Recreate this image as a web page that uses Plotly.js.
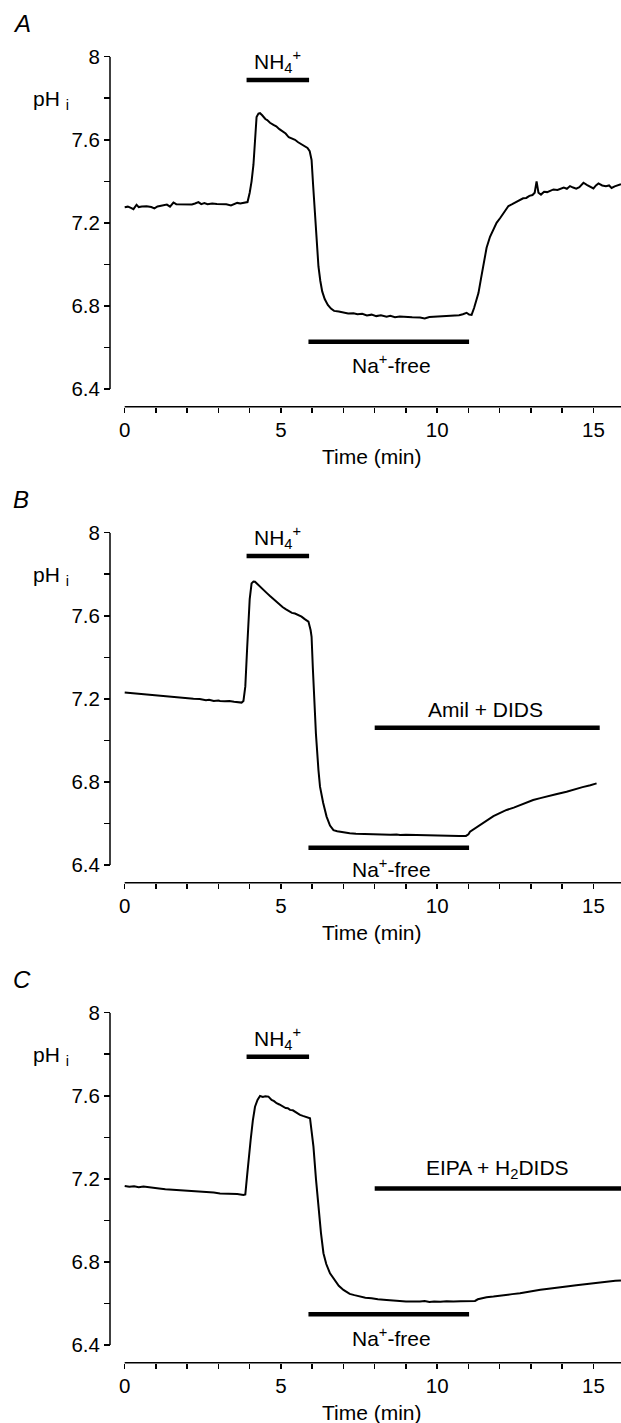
<!DOCTYPE html>
<html>
<head>
<meta charset="utf-8">
<script src="https://cdn.plot.ly/plotly-3.0.1.min.js"></script>
<style>html,body{margin:0;padding:0;background:#fff;}#chart{width:621px;height:1423px;}</style>
</head>
<body>
<div id="chart"></div>
<script>
// ---------- DATA ----------
var tA = [0,0.1,0.2,0.28,0.38,0.45,0.55,0.7,0.85,0.95,1.05,1.2,1.35,1.45,1.56,1.65,1.8,2.0,2.15,2.25,2.36,2.45,2.55,2.65,2.8,2.95,3.1,3.25,3.4,3.48,3.6,3.7,3.85,3.93,4.0,4.06,4.12,4.17,4.22,4.28,4.33,4.4,4.5,4.56,4.65,4.76,4.85,4.95,5.05,5.15,5.25,5.35,5.45,5.55,5.65,5.75,5.85,5.92,5.98,6.03,6.09,6.15,6.2,6.26,6.32,6.4,6.5,6.6,6.7,6.85,7.0,7.15,7.32,7.45,7.6,7.75,7.9,8.05,8.2,8.38,8.5,8.65,8.8,9.0,9.2,9.45,9.6,9.75,9.95,10.15,10.35,10.52,10.7,10.82,10.94,11.02,11.1,11.18,11.25,11.32,11.4,11.48,11.58,11.69,11.8,11.9,12.01,12.12,12.2,12.28,12.4,12.5,12.65,12.75,12.85,12.95,13.05,13.12,13.18,13.24,13.32,13.42,13.52,13.62,13.72,13.85,13.95,14.05,14.15,14.25,14.35,14.45,14.55,14.68,14.8,14.9,15.0,15.08,15.16,15.28,15.4,15.5,15.58,15.68,15.78,15.88];
var pHA = [7.275,7.278,7.272,7.266,7.287,7.276,7.279,7.280,7.276,7.270,7.279,7.284,7.288,7.278,7.298,7.290,7.290,7.289,7.288,7.293,7.300,7.290,7.295,7.290,7.293,7.291,7.292,7.290,7.284,7.288,7.296,7.293,7.297,7.300,7.345,7.40,7.48,7.60,7.71,7.726,7.728,7.718,7.700,7.695,7.682,7.672,7.665,7.651,7.642,7.630,7.612,7.606,7.600,7.588,7.580,7.570,7.561,7.545,7.503,7.38,7.23,7.09,6.99,6.92,6.87,6.833,6.805,6.787,6.776,6.773,6.770,6.764,6.765,6.760,6.762,6.754,6.758,6.751,6.755,6.748,6.752,6.746,6.749,6.746,6.745,6.744,6.740,6.747,6.748,6.749,6.751,6.753,6.755,6.760,6.767,6.758,6.757,6.79,6.83,6.862,6.93,7.005,7.08,7.133,7.170,7.200,7.222,7.245,7.262,7.281,7.290,7.297,7.310,7.318,7.320,7.330,7.334,7.345,7.400,7.345,7.336,7.350,7.348,7.354,7.361,7.358,7.366,7.370,7.364,7.377,7.370,7.365,7.372,7.393,7.382,7.372,7.366,7.380,7.390,7.380,7.376,7.380,7.368,7.376,7.382,7.386];

var tB = [0,0.2,0.4,0.6,0.8,0.92,1.0,1.2,1.4,1.6,1.8,1.98,2.2,2.4,2.6,2.7,2.85,3.0,3.05,3.2,3.35,3.5,3.6,3.74,3.8,3.86,3.92,3.96,4.0,4.06,4.12,4.17,4.25,4.35,4.44,4.55,4.65,4.75,4.86,4.95,5.05,5.15,5.25,5.35,5.45,5.55,5.66,5.75,5.88,5.95,5.98,6.02,6.07,6.12,6.2,6.25,6.35,6.46,6.57,6.68,6.8,6.89,7.0,7.2,7.4,7.6,7.74,7.9,8.1,8.3,8.5,8.7,8.81,9.0,9.2,9.4,9.6,9.88,10.1,10.3,10.5,10.7,10.92,11.0,11.05,11.2,11.35,11.58,11.8,12.0,12.22,12.45,12.7,12.9,13.07,13.3,13.55,13.8,14.14,14.4,14.65,14.9,15.1];
var pHB = [7.230,7.227,7.225,7.222,7.220,7.219,7.215,7.213,7.210,7.207,7.206,7.203,7.200,7.199,7.193,7.196,7.190,7.192,7.190,7.188,7.190,7.186,7.185,7.182,7.190,7.26,7.45,7.58,7.68,7.756,7.765,7.764,7.752,7.735,7.724,7.709,7.695,7.681,7.668,7.655,7.642,7.632,7.622,7.614,7.611,7.604,7.596,7.585,7.572,7.530,7.499,7.35,7.179,7.03,6.857,6.777,6.70,6.633,6.59,6.568,6.563,6.560,6.556,6.553,6.551,6.550,6.548,6.549,6.547,6.548,6.546,6.547,6.545,6.546,6.545,6.544,6.543,6.542,6.541,6.542,6.541,6.540,6.540,6.548,6.560,6.575,6.593,6.617,6.635,6.650,6.665,6.676,6.690,6.703,6.713,6.722,6.733,6.741,6.753,6.765,6.775,6.784,6.793];

var tC = [0,0.15,0.3,0.45,0.6,0.75,0.92,1.1,1.3,1.5,1.7,1.85,1.98,2.15,2.35,2.55,2.7,2.85,3.05,3.25,3.45,3.6,3.8,3.86,3.92,3.98,4.03,4.1,4.17,4.25,4.33,4.42,4.5,4.6,4.7,4.78,4.86,4.95,5.05,5.15,5.22,5.29,5.38,5.48,5.55,5.61,5.7,5.8,5.93,5.98,6.04,6.12,6.2,6.28,6.36,6.45,6.57,6.7,6.85,7.0,7.2,7.35,7.53,7.7,7.9,8.1,8.38,8.6,8.8,9.0,9.2,9.45,9.6,9.75,9.9,10.1,10.3,10.52,10.75,10.95,11.1,11.21,11.3,11.45,11.58,11.8,12.0,12.2,12.4,12.65,12.85,13.05,13.3,13.5,13.72,13.95,14.2,14.45,14.78,15.0,15.25,15.5,15.7,15.88];
var pHC = [7.166,7.162,7.164,7.160,7.163,7.161,7.159,7.154,7.150,7.148,7.146,7.147,7.143,7.141,7.142,7.137,7.138,7.134,7.130,7.130,7.129,7.127,7.122,7.125,7.22,7.33,7.387,7.48,7.547,7.580,7.599,7.594,7.598,7.596,7.580,7.574,7.564,7.558,7.550,7.541,7.540,7.532,7.530,7.519,7.515,7.508,7.503,7.499,7.492,7.43,7.355,7.20,7.066,6.94,6.842,6.79,6.745,6.715,6.685,6.665,6.646,6.640,6.633,6.628,6.625,6.620,6.617,6.613,6.612,6.610,6.608,6.609,6.612,6.607,6.610,6.608,6.611,6.609,6.611,6.612,6.610,6.612,6.620,6.625,6.630,6.633,6.638,6.642,6.645,6.649,6.655,6.660,6.666,6.670,6.673,6.678,6.683,6.688,6.694,6.699,6.703,6.706,6.709,6.711];

var panelLetters = ["A", "B", "C"];
var yTicks = [6.4, 6.6, 6.8, 7.0, 7.2, 7.4, 7.6, 7.8, 8];
var yTickText = ["6.4", "", "6.8", "", "7.2", "", "7.6", "", "8"];
var xTicks = [0,1,2,3,4,5,6,7,8,9,10,11,12,13,14,15];
var xTickText = ["0","","","","","5","","","","","10","","","","","15"];

// Solution bars
var barPanel = [0, 0, 1, 1, 1, 2, 2, 2];
var barStart = [3.9, 5.88, 3.9, 5.88, 8.0, 3.9, 5.88, 8.0];
var barEnd   = [5.9, 11.02, 5.9, 11.02, 15.2, 5.9, 11.02, 16.2];
var barLevel = [7.888, 6.628, 7.888, 6.483, 7.061, 7.788, 6.548, 7.153];
// Bar labels
var labPanel = [0, 0, 1, 1, 1, 2, 2, 2];
var labText  = ["NH<sub>4</sub><sup>+</sup>", "Na<sup>+</sup>-free", "NH<sub>4</sub><sup>+</sup>", "Na<sup>+</sup>-free", "Amil + DIDS", "NH<sub>4</sub><sup>+</sup>", "Na<sup>+</sup>-free", "EIPA + H<sub>2</sub>DIDS"];
var labX     = [4.9, 8.54, 4.9, 8.54, 11.55, 4.9, 8.54, 11.94];
var labY     = [7.888, 6.628, 7.888, 6.483, 7.061, 7.788, 6.548, 7.153];
var labShift = [18, -22, 18, -20, 18, 18, -23, 20];

// ---------- GEOMETRY ----------
var W = 621, H = 1423;
var offs = [0, 476, 956];
var PX_PER_MIN = 31.25;          // x scale (px per minute)
var PX_PER_PH = 332.3 / 1.6;     // y scale (px per pH unit)
var X0_PX = 124.7;               // pixel of t = 0
var Y8_PX = 56.7;                // pixel of pH 8 (panel A)
var YAX_PX = 110;                // y-axis line pixel (offset left)
var XAX_PX = 406.7;              // x-axis line pixel (offset below, panel A)
var LEFT_PX = 104, BOT_PX = 411; // plot area extended to hold the offset axis lines
var xLo = (LEFT_PX - X0_PX) / PX_PER_MIN, xHi = (W - X0_PX) / PX_PER_MIN;
var yLo = 8 - (BOT_PX - Y8_PX) / PX_PER_PH;
var yAxX = (YAX_PX - X0_PX) / PX_PER_MIN;      // y-axis line in data units
var xAxY = 8 - (XAX_PX - Y8_PX) / PX_PER_PH;   // x-axis line in data units

var FONT = "Arial, 'Liberation Sans', Helvetica, sans-serif";
var TICK = 20.5, LAB = 21;
var times = [tA, tB, tC], vals = [pHA, pHB, pHC];
var traces = [], shapes = [], annotations = [];
var layout = {
  width: W, height: H, autosize: false,
  margin: {l: 0, r: 0, t: 0, b: 0, pad: 0},
  paper_bgcolor: "#fff", plot_bgcolor: "rgba(0,0,0,0)",
  showlegend: false,
  font: {family: FONT, size: TICK, color: "#000"}
};

for (var i = 0; i < 3; i++) {
  var off = offs[i];
  var sx = i === 0 ? "" : String(i + 1);
  layout["xaxis" + sx] = {
    domain: [LEFT_PX / W, 1],
    range: [xLo, xHi],
    anchor: "free",
    position: 1 - (XAX_PX + off) / H,
    showline: false,
    ticks: "outside", ticklen: 5, tickwidth: 1.5, tickcolor: "#000",
    tickmode: "array", tickvals: xTicks, ticktext: xTickText,
    tickfont: {family: FONT, size: TICK, color: "#000"},
    showgrid: false, zeroline: false, fixedrange: true
  };
  layout["yaxis" + sx] = {
    domain: [1 - (BOT_PX + off) / H, 1 - (Y8_PX + off) / H],
    range: [yLo, 8],
    anchor: "free",
    position: YAX_PX / W,
    showline: false,
    ticks: "outside", ticklen: 6, tickwidth: 1.5, tickcolor: "#000",
    tickmode: "array", tickvals: yTicks, ticktext: yTickText,
    tickfont: {family: FONT, size: TICK, color: "#000"},
    showgrid: false, zeroline: false, fixedrange: true
  };
  // offset axis lines drawn inside the (extended) plot area of this panel
  traces.push({
    x: [yAxX, yAxX, null, 0, xHi], y: [6.4, 8, null, xAxY, xAxY],
    type: "scatter", mode: "lines", xaxis: "x" + sx, yaxis: "y" + sx,
    line: {color: "#000", width: 1.5}, hoverinfo: "skip", connectgaps: false
  });
  traces.push({
    x: times[i], y: vals[i], type: "scatter", mode: "lines",
    xaxis: "x" + sx, yaxis: "y" + sx,
    line: {color: "#000", width: 2}, hoverinfo: "skip"
  });
  annotations.push({
    text: "<i>" + panelLetters[i] + "</i>", xref: "paper", yref: "paper",
    x: 11 / W, y: 1 - (23.5 + off) / H, xanchor: "left", yanchor: "middle",
    showarrow: false, font: {family: FONT, size: 24, color: "#000"}
  });
  annotations.push({
    text: "pH <sub>i</sub>", xref: "paper", yref: "y" + sx,
    x: 31 / W, y: 7.79, xanchor: "left", yanchor: "middle",
    showarrow: false, font: {family: FONT, size: LAB, color: "#000"}
  });
  annotations.push({
    text: "Time (min)", xref: "paper", yref: "paper",
    x: 372 / W, y: 1 - (456.7 + off) / H, xanchor: "center", yanchor: "middle",
    showarrow: false, font: {family: FONT, size: LAB, color: "#000"}
  });
}

for (var b = 0; b < barPanel.length; b++) {
  var s = barPanel[b] === 0 ? "" : String(barPanel[b] + 1);
  shapes.push({
    type: "line", xref: "x" + s, yref: "y" + s,
    x0: barStart[b], x1: barEnd[b], y0: barLevel[b], y1: barLevel[b],
    line: {color: "#000", width: 4.5}
  });
}
for (var k = 0; k < labPanel.length; k++) {
  var s2 = labPanel[k] === 0 ? "" : String(labPanel[k] + 1);
  annotations.push({
    text: labText[k], xref: "x" + s2, yref: "y" + s2,
    x: labX[k], y: labY[k], yshift: labShift[k], xanchor: "center", yanchor: "middle",
    showarrow: false, font: {family: FONT, size: LAB, color: "#000"}
  });
}
layout.shapes = shapes;
layout.annotations = annotations;

Plotly.newPlot("chart", traces, layout, {staticPlot: true, displayModeBar: false});
</script>
</body>
</html>
